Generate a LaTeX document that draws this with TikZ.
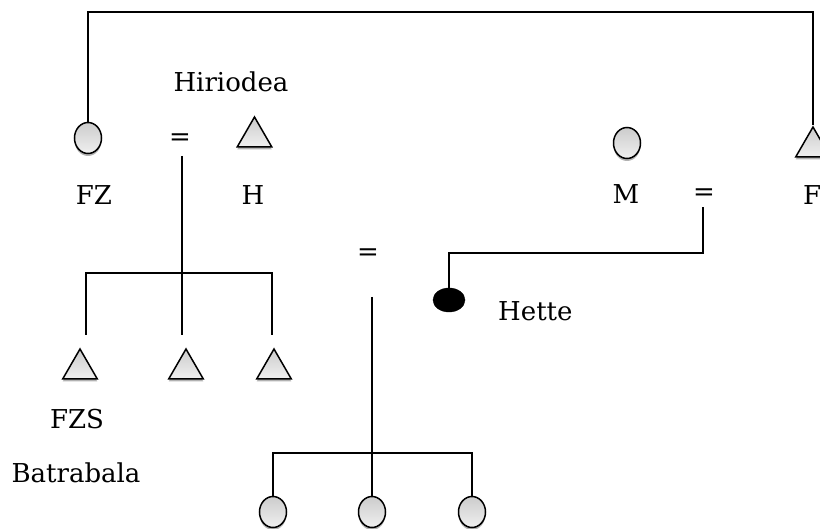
\documentclass[tikz,border=0pt]{standalone}
\usepackage{fontspec}
\setmainfont{DejaVu Serif}
\usetikzlibrary{shapes.geometric,shadows}
\begin{document}
\begin{tikzpicture}[x=1pt,y=-1pt,
  lbl/.style={font=\fontsize{26}{30}\selectfont, inner sep=0pt},
  fem/.style={ellipse, draw=black, line width=1.5pt, minimum width=27pt, minimum height=31pt, inner sep=0pt,
    top color=gray!40, bottom color=gray!12,
    drop shadow={shadow xshift=0pt, shadow yshift=-2.5pt, opacity=.3, fill=black}},
  mal/.style={regular polygon, regular polygon sides=3, draw=black, line width=1.5pt, minimum size=40pt, inner sep=0pt,
    top color=gray!40, bottom color=gray!12,
    drop shadow={shadow xshift=0pt, shadow yshift=-2.5pt, opacity=.3, fill=black}},
  ego/.style={ellipse, draw=black, fill=black, minimum width=32pt, minimum height=24pt, inner sep=0pt},
  link/.style={line width=2pt, black}]
\useasboundingbox (0,0) rectangle (820,529);
% nodes
\node[fem] (fz) at (88,138) {};
\node[mal] (h) at (254.5,137) {};
\node[fem] (m) at (627,143) {};
\node[mal] (f) at (813,147) {};
\node[mal] (s1) at (80,369) {};
\node[mal] (s2) at (186,369) {};
\node[mal] (s3) at (274,369) {};
\node[fem] (k1) at (273,512) {};
\node[fem] (k2) at (372,512) {};
\node[fem] (k3) at (472,512) {};
\node[ego] (hette) at (449,300) {};
% labels
\node[lbl] (lhiri) at (231,82) {Hiriodea};
\node[lbl] (leq1) at (180,140) {=};
\node[lbl] (lfz) at (94,195) {FZ};
\node[lbl] (lh) at (253,195) {H};
\node[lbl] (lm) at (626,194) {M};
\node[lbl] (leq2) at (704,195) {=};
\node[lbl, anchor=west] (lf) at (803,195) {F};
\node[lbl] (leq3) at (368,255) {=};
\node[lbl, anchor=west] (lhette) at (498,311) {Hette};
\node[lbl] (lfzs) at (77,419) {FZS};
\node[lbl] (lbat) at (76,473) {Batrabala};
% coordinates
\coordinate (top) at (450,12);
\coordinate (eq1b) at (182,156);
\coordinate (d1) at (86,335);
\coordinate (d2) at (182,335);
\coordinate (d3) at (272,335);
\coordinate (bar1) at (180,273);
\coordinate (eq2b) at (703,207);
\coordinate (hbar) at (575,253);
\coordinate (eq3b) at (372,297);
\coordinate (bar3) at (372,453);
% connectors
\draw[link] (fz.north) |- (top) -| (f.north);
\draw[link] (eq1b) -- (d2);
\draw[link] (d1) |- (bar1) -| (d3);
\draw[link] (hette.north) |- (hbar) -| (eq2b);
\draw[link] (eq3b) -- (k2.north);
\draw[link] (k1.north) |- (bar3) -| (k3.north);
\end{tikzpicture}
\end{document}
